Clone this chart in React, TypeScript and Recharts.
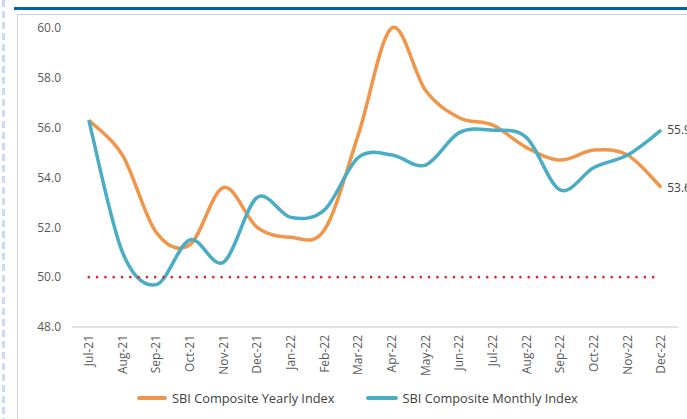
import React from 'react';
import { LineChart, Line, XAxis, YAxis, Legend, LabelList } from 'recharts';

const months = ['Jul-21','Aug-21','Sep-21','Oct-21','Nov-21','Dec-21','Jan-22','Feb-22','Mar-22','Apr-22','May-22','Jun-22','Jul-22','Aug-22','Sep-22','Oct-22','Nov-22','Dec-22'];
const yearlyIndex = [56.3, 54.9, 51.8, 51.3, 53.6, 52.0, 51.6, 51.9, 55.7, 60.0, 57.5, 56.4, 56.1, 55.2, 54.7, 55.1, 54.9, 53.6];
const monthlyIndex = [56.3, 51.0, 49.7, 51.5, 50.6, 53.2, 52.4, 52.7, 54.8, 54.9, 54.5, 55.8, 55.9, 55.6, 53.5, 54.4, 54.9, 55.9];
const thresholdValue = [50, 50, 50, 50, 50, 50, 50, 50, 50, 50, 50, 50, 50, 50, 50, 50, 50, 50];
const yTicks = [48, 50, 52, 54, 56, 58, 60];
const seriesNames = ['SBI Composite Yearly Index', 'SBI Composite Monthly Index'];

const data = months.map((m, i) => ({
  month: m,
  yearly: yearlyIndex[i],
  monthly: monthlyIndex[i],
  threshold: thresholdValue[i],
}));

const ORANGE = '#F0964A';
const BLUE = '#4BACC6';
const FONT = '"Open Sans", sans-serif';

// Excel-like smoothing (Catmull-Rom as cubic Bezier)
const excelCurve = (context: any) => {
  let pts: number[][] = [];
  return {
    areaStart() {},
    areaEnd() {},
    lineStart() { pts = []; },
    lineEnd() {
      const n = pts.length;
      if (!n) return;
      context.moveTo(pts[0][0], pts[0][1]);
      for (let i = 0; i < n - 1; i++) {
        const p0 = pts[Math.max(i - 1, 0)];
        const p1 = pts[i];
        const p2 = pts[i + 1];
        const p3 = pts[Math.min(i + 2, n - 1)];
        const c1x = p1[0] + (p2[0] - p0[0]) / 6;
        const c1y = p1[1] + (p2[1] - p0[1]) / 6;
        const c2x = p2[0] - (p3[0] - p1[0]) / 6;
        const c2y = p2[1] - (p3[1] - p1[1]) / 6;
        context.bezierCurveTo(c1x, c1y, c2x, c2y, p2[0], p2[1]);
      }
    },
    point(x: number, y: number) { pts.push([+x, +y]); },
  };
};

const XTick = (props: any) => {
  const { x, y, payload } = props;
  return (
    <g transform={`translate(${x},${y})`}>
      <text transform="rotate(-90)" x={-8} y={0} dy="0.35em" textAnchor="end" fontSize={12} fontFamily={FONT} fill="#595959">
        {payload.value}
      </text>
    </g>
  );
};

const EndLabel = (props: any) => {
  const { x, y, value, index } = props;
  if (index !== months.length - 1) return null;
  return (
    <text x={x + 6} y={y} dy="0.35em" fontSize={12} fontFamily={FONT} fill="#404040">
      {Number(value).toFixed(1)}
    </text>
  );
};

const LegendContent = () => (
  <div style={{ display: 'flex', alignItems: 'center', height: 30, boxSizing: 'border-box', paddingTop: 8, paddingLeft: 137, fontFamily: FONT, fontSize: 12.8, color: '#404040' }}>
    <div style={{ display: 'flex', alignItems: 'center', marginRight: 31 }}>
      <div style={{ width: 30, height: 4, background: ORANGE, borderRadius: 2, marginRight: 5 }} />
      <span>{seriesNames[0]}</span>
    </div>
    <div style={{ display: 'flex', alignItems: 'center' }}>
      <div style={{ width: 32, height: 4, background: BLUE, borderRadius: 2, marginRight: 5 }} />
      <span>{seriesNames[1]}</span>
    </div>
  </div>
);

export default function App() {
  return (
    <div style={{ position: 'absolute', left: 0, top: 0, width: 687, height: 419, overflow: 'hidden', background: '#fff' }}>
      <div style={{ position: 'absolute', left: 2, top: 0, width: 3, height: 419, backgroundImage: 'repeating-linear-gradient(to bottom, #c8dbf6 0px, #c8dbf6 7px, transparent 7px, transparent 11px)' }} />
      <div style={{ position: 'absolute', left: 14, top: 7, width: 673, height: 3, background: '#0f6195' }} />
      <div style={{ position: 'absolute', left: 17, top: 14, width: 700, height: 420, border: '1px solid #cfcfcf', boxSizing: 'border-box' }} />
      <div style={{ position: 'absolute', left: 0, top: 0 }}>
        <LineChart width={687} height={419} data={data} margin={{ top: 28, right: 9, left: 0, bottom: 10 }}>
          <XAxis
            dataKey="month"
            interval={0}
            height={52}
            tickLine={false}
            tickSize={0}
            tickMargin={0}
            axisLine={{ stroke: '#d9d9d9', strokeWidth: 1.5 }}
            padding={{ left: 16.8, right: 16.8 }}
            tick={<XTick />}
          />
          <YAxis
            width={72}
            domain={[48, 60]}
            ticks={yTicks}
            interval={0}
            axisLine={false}
            tickLine={false}
            tickMargin={5}
            tickFormatter={(v: number) => v.toFixed(1)}
            tick={{ fontSize: 12, fontFamily: FONT, fill: '#595959' }}
          />
          <Legend verticalAlign="bottom" height={30} content={<LegendContent />} />
          <Line type={excelCurve as any} dataKey="yearly" name={seriesNames[0]} stroke={ORANGE} strokeWidth={3.5} dot={false} isAnimationActive={false}>
            <LabelList dataKey="yearly" content={<EndLabel />} />
          </Line>
          <Line type={excelCurve as any} dataKey="monthly" name={seriesNames[1]} stroke={BLUE} strokeWidth={3.5} dot={false} isAnimationActive={false}>
            <LabelList dataKey="monthly" content={<EndLabel />} />
          </Line>
          <Line type="linear" dataKey="threshold" stroke="#d7262e" strokeWidth={2.6} strokeDasharray="0 8.3" strokeLinecap="round" dot={false} legendType="none" isAnimationActive={false} />
        </LineChart>
      </div>
    </div>
  );
}
